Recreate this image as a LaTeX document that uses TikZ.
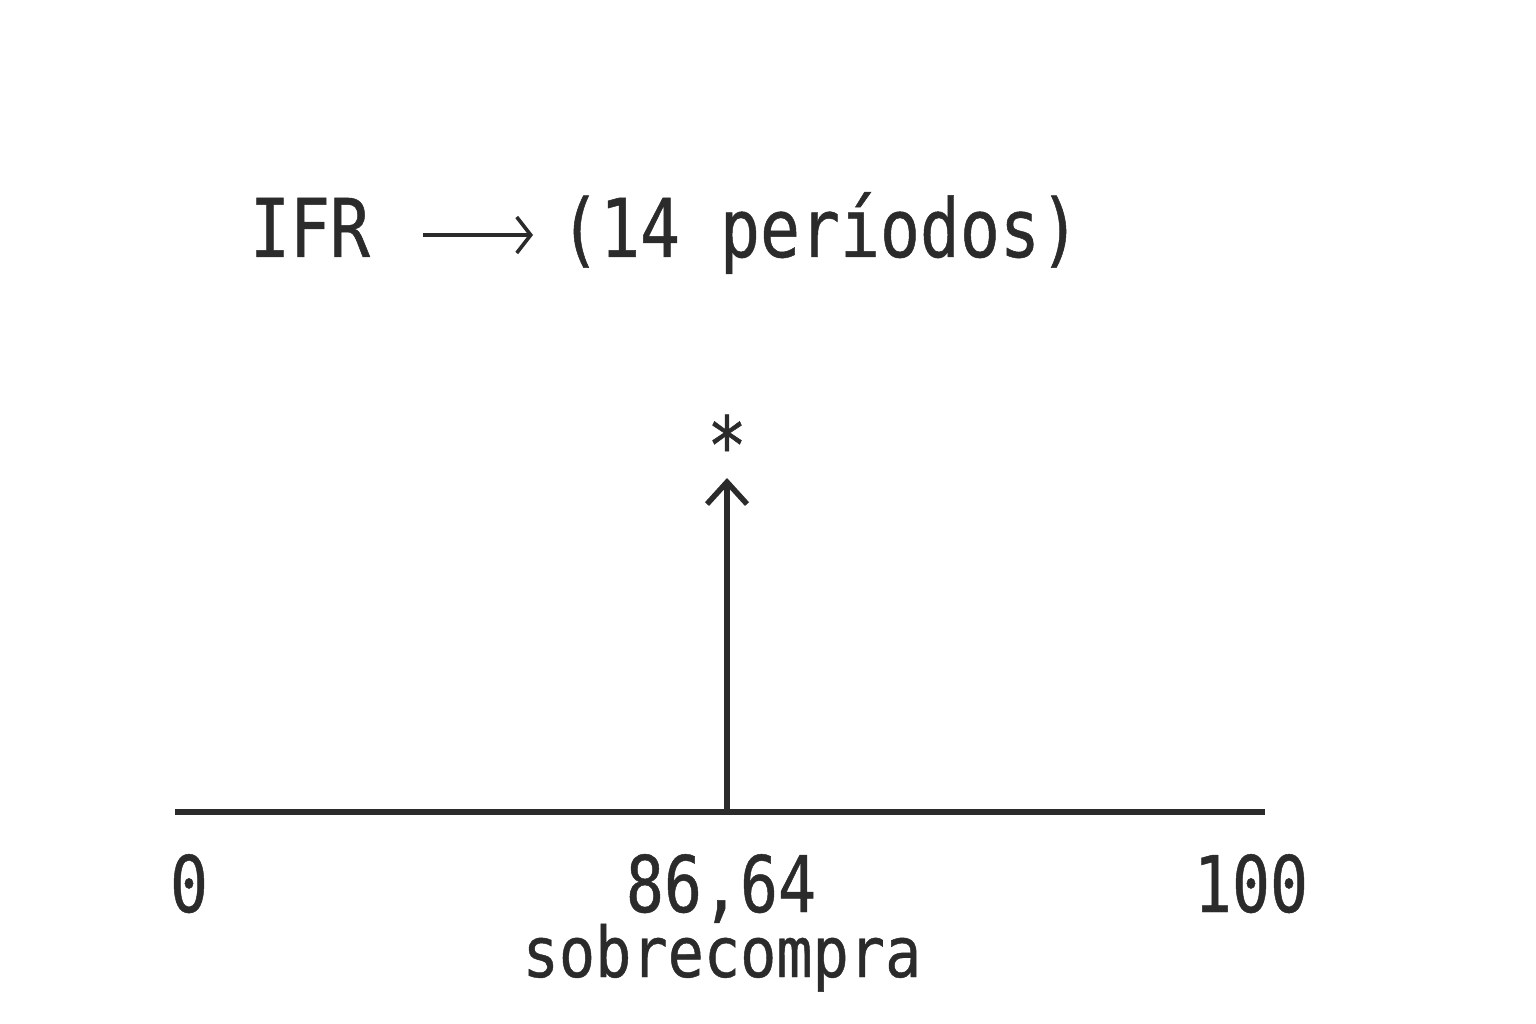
\documentclass[tikz,border=0pt]{standalone}
\usepackage{fontspec}
\usetikzlibrary{arrows.meta}
\newfontfamily\titlefont[FakeStretch=0.82,FakeBold=0.6]{DejaVu Sans Mono}
\newfontfamily\labfont[FakeStretch=0.81,FakeBold=0.6]{DejaVu Sans Mono}
\newfontfamily\subfont[FakeStretch=0.86,FakeBold=0.6]{DejaVu Sans Mono}
\definecolor{ink}{HTML}{2B2B2B}
\begin{document}
\begin{tikzpicture}[x=1pt,y=-1pt,
  txt/.style={inner sep=0pt,outer sep=0pt,text=ink,anchor=base},
  ttl/.style={txt,font=\titlefont\fontsize{81}{90}\selectfont},
  num/.style={txt,font=\labfont\fontsize{78}{86}\selectfont},
  sub/.style={txt,font=\subfont\fontsize{70}{80}\selectfont},
  ln/.style={draw=ink,line width=5.5pt}]
\useasboundingbox[fill=white] (0,0) rectangle (1536,1024);
% title
\node[ttl] (ifr) at (310,257) {IFR};
\node[ttl] (per) at (820,257) {(14 períodos)};
\coordinate (ta) at (423,235);
\coordinate (tb) at (533,235);
\draw[draw=ink,line width=3.6pt,-{Straight Barb[length=14pt,width=36pt]}] (ta) -- (tb);
% axis
\coordinate (a0) at (175,812);
\coordinate (a1) at (1265,812);
\coordinate (mk) at (727,812);
\coordinate (tip) at (727,478);
\draw[ln] (a0) -- (a1);
\draw[ln,-{Straight Barb[length=22pt,width=40pt]}] (mk) -- (tip);
\node[txt,font=\titlefont\fontsize{80}{90}\selectfont] (star) at (727,474) {*};
% labels
\node[num] (l0) at (189,912) {0};
\node[num] (l1) at (721,912) {86,64};
\node[num] (l2) at (1251,912) {100};
\node[sub] (sc) at (722,977) {sobrecompra};
\end{tikzpicture}
\end{document}
